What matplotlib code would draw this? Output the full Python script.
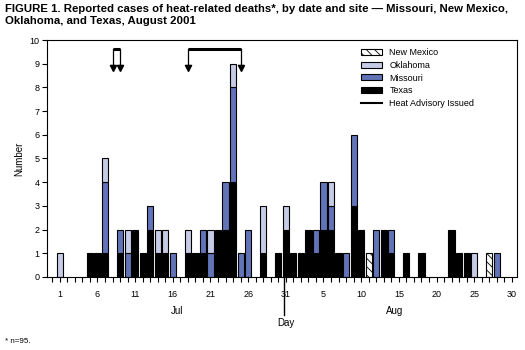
import numpy as np
import matplotlib

matplotlib.use("Agg")
import matplotlib.pyplot as plt
from matplotlib.lines import Line2D
from matplotlib.patches import Patch

plt.rcParams["font.family"] = ["Liberation Sans", "DejaVu Sans"]
plt.rcParams["hatch.linewidth"] = 0.6

# day index: July d -> d, August d -> 31 + d
days = np.array([1, 5, 6, 7, 9, 10, 11, 12, 13, 14, 15, 16, 18, 19, 20, 21, 22, 23,
                 24, 25, 26, 28, 30, 31,
                 32, 33, 34, 35, 36, 37, 38, 39, 40, 41, 42, 43, 44, 45, 47, 49,
                 53, 54, 55, 56, 58, 59])
texas = np.array([0, 1, 1, 1, 1, 0, 2, 1, 2, 1, 1, 0, 1, 1, 1, 0, 2, 2,
                  4, 0, 0, 1, 1, 2,
                  1, 1, 2, 1, 2, 2, 1, 0, 3, 2, 0, 0, 2, 1, 1, 1,
                  2, 1, 1, 0, 0, 0])
missouri = np.array([0, 0, 0, 3, 1, 1, 0, 0, 1, 0, 0, 1, 0, 0, 1, 1, 0, 2,
                     4, 1, 2, 0, 0, 0,
                     0, 0, 0, 1, 2, 1, 0, 1, 3, 0, 0, 2, 0, 1, 0, 0,
                     0, 0, 0, 0, 0, 1])
oklahoma = np.array([1, 0, 0, 1, 0, 1, 0, 0, 0, 1, 1, 0, 1, 0, 0, 1, 0, 0,
                     1, 0, 0, 2, 0, 1,
                     0, 0, 0, 0, 0, 1, 0, 0, 0, 0, 0, 0, 0, 0, 0, 0,
                     0, 0, 0, 1, 0, 0])
new_mexico = np.array([0, 0, 0, 0, 0, 0, 0, 0, 0, 0, 0, 0, 0, 0, 0, 0, 0, 0,
                       0, 0, 0, 0, 0, 0,
                       0, 0, 0, 0, 0, 0, 0, 0, 0, 0, 1, 0, 0, 0, 0, 0,
                       0, 0, 0, 0, 1, 0])

# heat advisory brackets (first day, last day)
advisories = [(8, 9), (18, 25)]

tick_days = [1, 6, 11, 16, 21, 26, 31, 36, 41, 46, 51, 56, 61]
tick_labels = ["1", "6", "11", "16", "21", "26", "31", "5", "10", "15", "20", "25", "30"]

# series -> (label, facecolor, hatch)
SERIES = [
    ("Texas", texas, "black", None),
    ("Missouri", missouri, "#6274b8", None),
    ("Oklahoma", oklahoma, "#c6cbe6", None),
    ("New Mexico", new_mexico, "white", "\\\\\\\\"),
]

fig = plt.figure(figsize=(5.25, 3.5), dpi=100)
ax = fig.add_axes([0.0895, 0.2086, 0.8955, 0.6771])

bottom = np.zeros(len(days))
for label, vals, color, hatch in SERIES:
    m = vals > 0
    ax.bar(days[m], vals[m], bottom=bottom[m], width=0.82, color=color,
           edgecolor="black", linewidth=0.8, hatch=hatch, zorder=2)
    bottom = bottom + vals

# heat advisory brackets
for d0, d1 in advisories:
    ax.plot([d0, d1], [9.6, 9.6], color="black", lw=2.2, solid_capstyle="butt",
            zorder=3)
    for d in (d0, d1):
        ax.plot([d, d], [9.62, 8.95], color="black", lw=0.9, zorder=3)
        ax.plot([d - 0.35, d + 0.35], [8.95, 8.95], color="black", lw=0.9, zorder=3)
        ax.plot(d, 8.8, marker="v", ms=4, color="black", zorder=3)

ax.set_xlim(-0.7, 61.7)
ax.set_ylim(0, 10)
ax.set_yticks(range(0, 11))
ax.set_xticks(range(0, 62))
ax.set_xticklabels([tick_labels[tick_days.index(d)] if d in tick_days else ""
                    for d in range(0, 62)])
ax.tick_params(axis="both", direction="out", length=3.5, width=0.8,
               labelsize=6.5, colors="black")
ax.tick_params(axis="x", pad=6)
ax.tick_params(axis="y", pad=2)
for sp in ax.spines.values():
    sp.set_linewidth(0.8)
ax.set_ylabel("Number", fontsize=7, labelpad=4)

trans = ax.get_xaxis_transform()
ax.text(16.5, -0.145, "Jul", transform=trans, ha="center", va="center", fontsize=7)
ax.text(45.5, -0.145, "Aug", transform=trans, ha="center", va="center", fontsize=7)
ax.text(31, -0.195, "Day", transform=trans, ha="center", va="center", fontsize=7)
ax.plot([30.8, 30.8], [0, -0.16], transform=trans, color="black", lw=1.0,
        clip_on=False)

handles = [
    Patch(facecolor="white", edgecolor="black", hatch="\\\\\\\\", linewidth=0.8),
    Patch(facecolor="#c6cbe6", edgecolor="black", linewidth=0.8),
    Patch(facecolor="#6274b8", edgecolor="black", linewidth=0.8),
    Patch(facecolor="black", edgecolor="black", linewidth=0.8),
    Line2D([], [], color="black", lw=1.5),
]
labels = ["New Mexico", "Oklahoma", "Missouri", "Texas", "Heat Advisory Issued"]
ax.legend(handles, labels, loc="upper left", bbox_to_anchor=(0.667, 0.965),
          frameon=False, fontsize=6.5, handlelength=2.4, handleheight=0.6,
          labelspacing=0.4, handletextpad=0.8, borderaxespad=0, borderpad=0)

fig.text(0.01, 0.988,
         "FIGURE 1. Reported cases of heat-related deaths*, by date and site \u2014 "
         "Missouri, New Mexico,\nOklahoma, and Texas, August 2001",
         ha="left", va="top", fontsize=8.2, fontweight="bold", linespacing=1.2)
fig.text(0.01, 0.025, "* n=95.", ha="left", va="center", fontsize=5.8)

fig.savefig("out.png", dpi=100)
